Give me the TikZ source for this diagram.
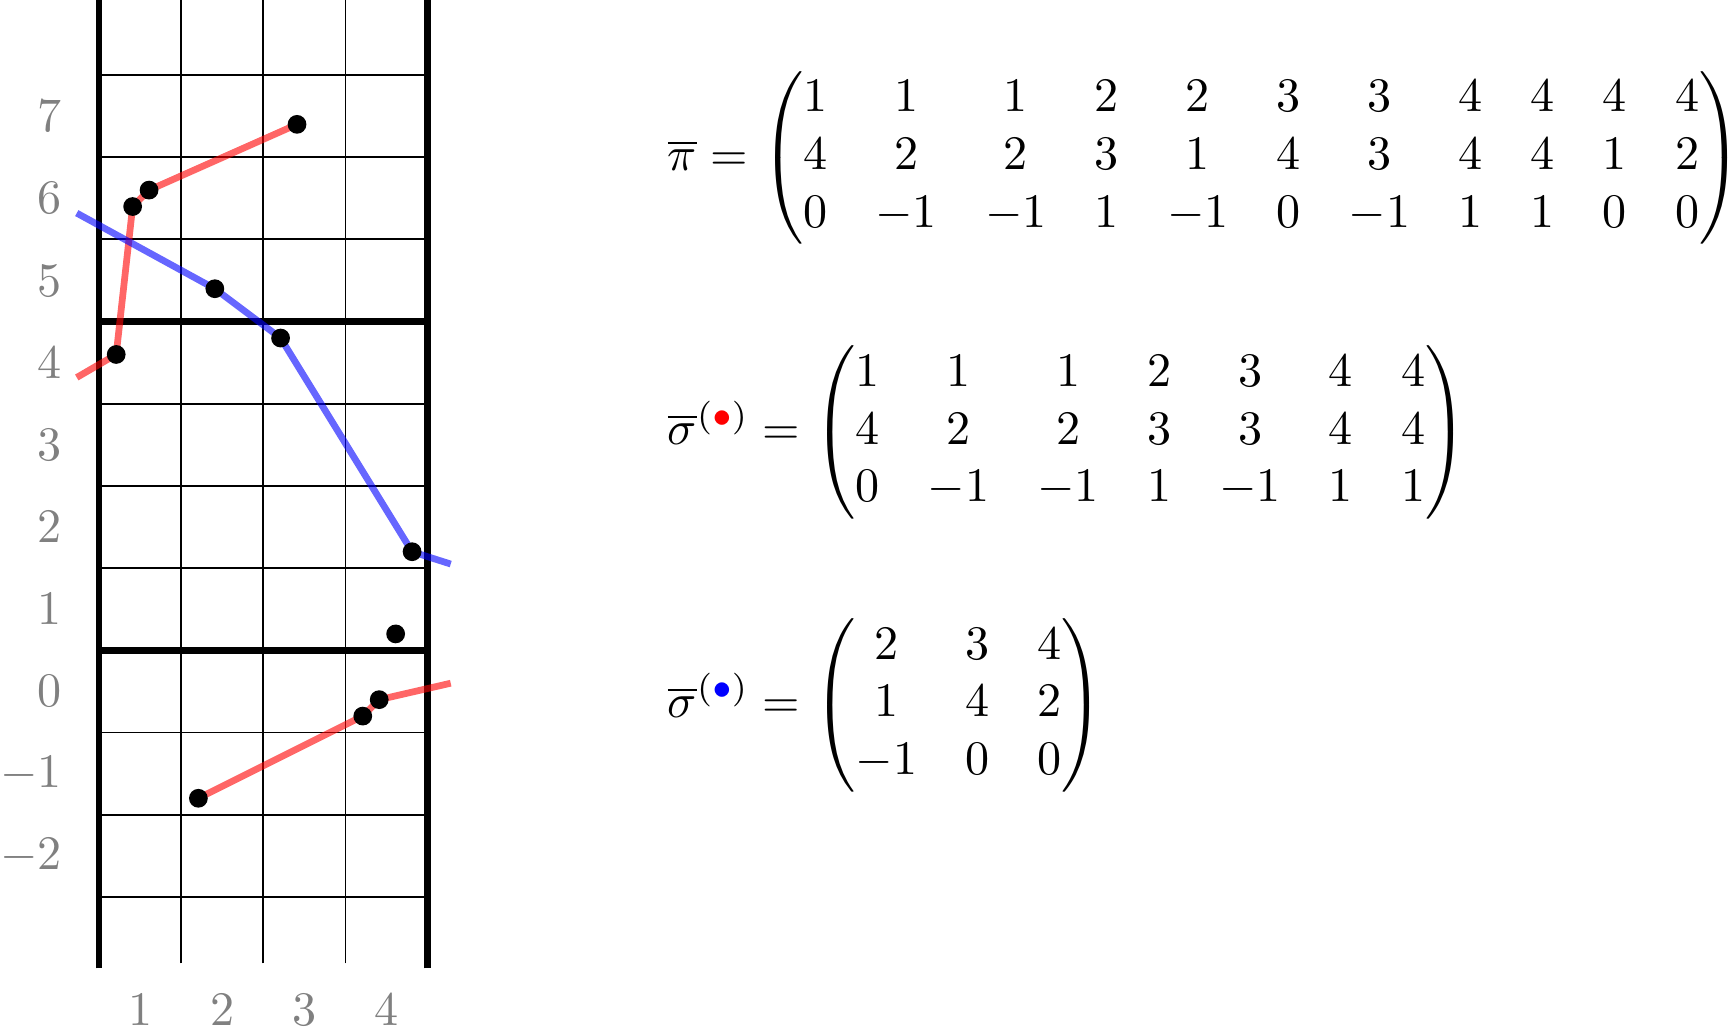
\documentclass[tikz,border=0pt]{standalone}
\usepackage{amsmath}
\usepackage{xcolor}
\setcounter{MaxMatrixCols}{20}
\begin{document}
\begin{tikzpicture}[x=0.6cm,y=0.6cm,
  thinline/.style={line width=0.4pt},
  thickline/.style={line width=1.4pt},
  redpath/.style={red, opacity=0.6, line width=1.4pt, line join=round},
  bluepath/.style={blue, opacity=0.6, line width=1.4pt, line join=round},
  dot/.style={circle, fill=black, inner sep=0pt, minimum size=3.9pt},
  rowlab/.style={text=gray, anchor=east, inner sep=0pt},
  collab/.style={text=gray, inner sep=0pt},
  eqn/.style={anchor=west, inner sep=0pt}]
\useasboundingbox (-1.204,-4.141) rectangle (19.87,8.413);

% grid
\foreach \x in {1,2,3} \draw[thinline] (\x,-3.31) -- (\x,8.45);
\foreach \y in {-2.5,-1.5,-0.5,1.5,2.5,3.5,5.5,6.5,7.5} \draw[thinline] (0,\y) -- (4,\y);
\foreach \y in {0.5,4.5} \draw[thickline] (0,\y) -- (4,\y);
\foreach \x in {0,4} \draw[thickline] (\x,-3.37) -- (\x,8.45);

% labels
\foreach \k in {-2,...,7} \node[rowlab] (r\k) at (-0.44,\k) {$\k$};
\foreach \k in {1,...,4} \node[collab] (c\k) at (\k-0.5,-3.88) {$\k$};

% points
\coordinate (p1) at (2.41,6.9);
\coordinate (p2) at (0.61,6.1);
\coordinate (p3) at (0.41,5.9);
\coordinate (p4) at (1.41,4.9);
\coordinate (p5) at (2.21,4.3);
\coordinate (p6) at (0.21,4.1);
\coordinate (p7) at (3.81,1.7);
\coordinate (p8) at (3.61,0.7);
\coordinate (p9) at (3.41,-0.1);
\coordinate (p10) at (3.21,-0.3);
\coordinate (p11) at (1.21,-1.3);
\coordinate (rs) at (-0.27,3.82);
\coordinate (re) at (4.28,0.1);
\coordinate (bs) at (-0.27,5.82);
\coordinate (be) at (4.28,1.55);

% paths
\draw[redpath] (rs) -- (p6) -- (p3) -- (p2) -- (p1);
\draw[redpath] (p11) -- (p10) -- (p9) -- (re);
\draw[bluepath] (bs) -- (p4) -- (p5) -- (p7) -- (be);

% dots
\foreach \i in {1,...,11} \node[dot] (d\i) at (p\i) {};

% equations
\node[eqn] (pi) at (6.91,6.49) {$\overline{\pi} = \begin{pmatrix}
1&1&1&2&2&3&3&4&4&4&4\\
4&2&2&3&1&4&3&4&4&1&2\\
0&-1&-1&1&-1&0&-1&1&1&0&0
\end{pmatrix}$};
\node[eqn] (sr) at (6.91,3.15) {$\overline{\sigma}^{(\textcolor{red}{\bullet})} = \begin{pmatrix}
1&1&1&2&3&4&4\\
4&2&2&3&3&4&4\\
0&-1&-1&1&-1&1&1
\end{pmatrix}$};
\node[eqn] (sb) at (6.91,-0.17) {$\overline{\sigma}^{(\textcolor{blue}{\bullet})} = \begin{pmatrix}
2&3&4\\
1&4&2\\
-1&0&0
\end{pmatrix}$};
\end{tikzpicture}
\end{document}
